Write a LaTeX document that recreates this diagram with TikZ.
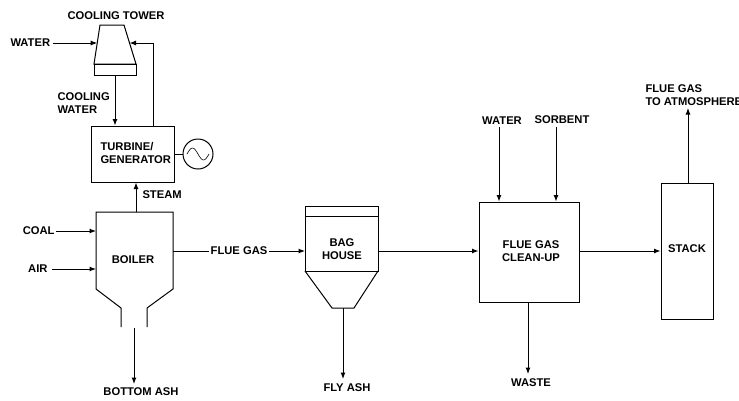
\documentclass[tikz,border=0pt]{standalone}
\usepackage{fontspec}
\setmainfont{Liberation Sans}
\usetikzlibrary{arrows.meta}
\begin{document}
\begin{tikzpicture}[x=1pt,y=-1pt,
  line width=1pt,
  lbl/.style={font=\fontsize{11.2}{13}\selectfont\bfseries, inner sep=0pt, align=center},
  box/.style={draw, rectangle, inner sep=0pt},
  arr/.style={-{Latex[length=6.5pt,width=5pt]}}]
\useasboundingbox (0,0) rectangle (739,400);

% ---------- cooling tower ----------
\draw (100,25) -- (124,25) -- (136,64) -- (94,64) -- cycle;
\draw (94,64) rectangle (136,75);
\node[lbl] (cttxt) at (116,16) {COOLING TOWER};
\coordinate (ctl) at (97.2,43);
\coordinate (ctr) at (129.5,43);
\coordinate (ctb) at (115,75);
\node[lbl, anchor=west] (water1) at (10,43) {WATER};
\draw[arr] (water1.east) ++(2,0) coordinate (w1s) (w1s) -- (ctl);

% ---------- turbine / generator ----------
\node[box, minimum width=83pt, minimum height=56pt] (turb) at (132.5,154) {};
\node[lbl, align=left, anchor=west] (turbtxt) at (100,152.5) {TURBINE/\\GENERATOR};
\node[draw, circle, minimum size=30pt, inner sep=0pt] (gen) at (198,154) {};
\draw (turb.east) -- (gen.west);
\draw[line width=0.6pt] (gen.center) ++(-11,0) sin ++(5.5,-6) cos ++(5.5,6) sin ++(5.5,6) cos ++(5.5,-6);

\coordinate (retx) at (153,0);
\coordinate (cwx) at (115,0);
\draw[arr] (turb.north -| retx) |- (ctr);
\draw[arr] (ctb) -- (turb.north -| cwx);
\node[lbl, align=left, anchor=west] (cwtxt) at (57,103.5) {COOLING\\WATER};

% ---------- boiler ----------
\draw (121,327) -- (121,308) -- (96,289) -- (96,212) -- (173,212) -- (173,289) -- (147,308) -- (147,327);
\node[lbl] (boiler) at (133,260) {BOILER};
\coordinate (btop) at (136,212);
\coordinate (bcoal) at (96,231);
\coordinate (bair) at (96,269);
\coordinate (bflue) at (173,251);
\coordinate (bbot) at (134,328);
\draw[arr] (btop) -- (turb.south -| btop);
\node[lbl, anchor=west] (steam) at (142,195) {STEAM};
\node[lbl, anchor=east] (coal) at (55,231) {COAL};
\node[lbl, anchor=east] (air) at (48,269) {AIR};
\draw[arr] (coal.east) ++(1,0) coordinate (cs) (cs) -- (bcoal);
\draw[arr] (air.east) ++(4,0) coordinate (as) (as) -- (bair);
\node[lbl] (bash) at (141,392) {BOTTOM ASH};
\coordinate (bashe) at (134,384);
\draw[arr] (bbot) -- (bashe);

% ---------- bag house ----------
\draw (305,206) rectangle (378,271);
\draw (305,216) -- (378,216);
\draw (305,271) -- (332,308) -- (354,308) -- (378,271);
\node[lbl] (bag) at (342,249.5) {BAG\\HOUSE};
\coordinate (bagin) at (305,251);
\coordinate (bagout) at (378,251);
\coordinate (bagbot) at (343,308);
\draw[arr] (bflue) -- node[lbl, fill=white, inner xsep=2pt, inner ysep=1pt] (flue) {FLUE GAS} (bagin);
\node[lbl] (flyash) at (347,388) {FLY ASH};
\coordinate (flye) at (343,379);
\draw[arr] (bagbot) -- (flye);

% ---------- flue gas clean-up ----------
\node[box, minimum width=100pt, minimum height=100pt] (fgc) at (529,252) {};
\node[lbl] (fgctxt) at (531,251.5) {FLUE GAS\\CLEAN-UP};
\draw[arr] (bagout) -- (fgc.west |- bagout);
\node[lbl] (water2) at (502,121) {WATER};
\node[lbl] (sorb) at (562,120) {SORBENT};
\coordinate (w2x) at (499,0);
\coordinate (sx) at (556,0);
\draw[arr] (water2.south -| w2x) ++(0,2) coordinate (w2s) (w2s) -- (fgc.north -| w2x);
\draw[arr] (sorb.south -| sx) ++(0,3) coordinate (ss) (ss) -- (fgc.north -| sx);
\node[lbl] (waste) at (531,383) {WASTE};
\coordinate (wx) at (528,0);
\coordinate (wastee) at (528,374);
\draw[arr] (fgc.south -| wx) -- (wastee);

% ---------- stack ----------
\node[box, minimum width=52pt, minimum height=136pt] (stack) at (687,251) {};
\node[lbl] (stacktxt) at (687,249) {STACK};
\draw[arr] (fgc.east |- stack) -- (stack.west);
\node[lbl, align=left, anchor=west] (atm) at (645,95) {FLUE GAS\\TO ATMOSPHERE};
\coordinate (atme) at (688,108);
\draw[arr] (stack.north -| atme) -- (atme);
\end{tikzpicture}
\end{document}
